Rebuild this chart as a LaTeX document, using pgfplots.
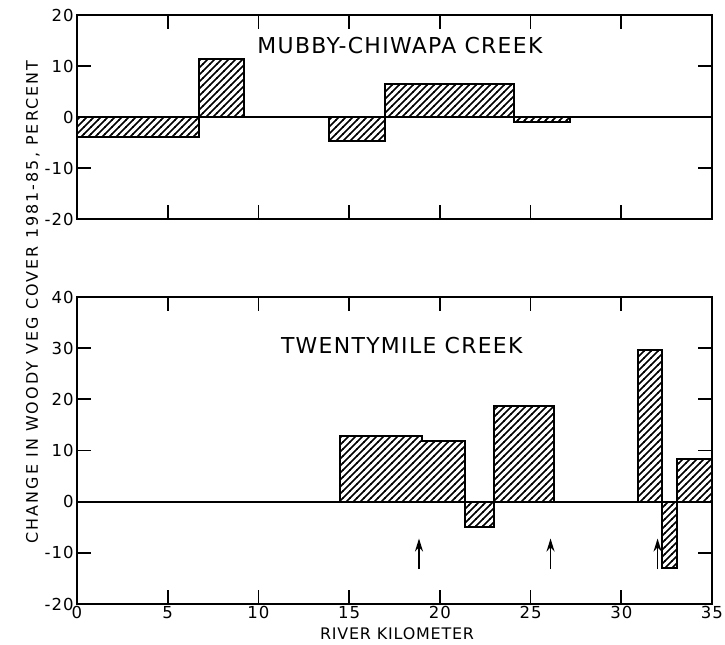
\documentclass[border=0pt]{standalone}
\usepackage{pgfplots}
\pgfplotsset{compat=1.18}
\usetikzlibrary{patterns,arrows.meta}
\usepackage{fontspec}
\setmainfont{DejaVu Sans}[LetterSpace=6]
\newfontfamily\widefont{DejaVu Sans}[LetterSpace=13]
\newfontfamily\widerfont{DejaVu Sans}[LetterSpace=5]

\pgfdeclarepatternformonly{hatch}{\pgfqpoint{-1bp}{-1bp}}{\pgfqpoint{4.5bp}{4.5bp}}{\pgfqpoint{3.5bp}{3.5bp}}{%
  \pgfsetlinewidth{0.75bp}%
  \pgfpathmoveto{\pgfqpoint{-0.2bp}{-0.2bp}}%
  \pgfpathlineto{\pgfqpoint{3.7bp}{3.7bp}}%
  \pgfusepath{stroke}}

\pgfplotstableread{
x y
0 -3.9
6.75 11.3
9.2 0
13.9 -4.7
17.0 6.5
24.1 -1.0
27.2 0
35 0
}\topdata

\pgfplotstableread{
x y
0 0
14.5 12.9
19.0 11.8
21.4 -5.0
23.0 18.7
26.3 -0.15
30.9 29.7
32.25 -13.0
33.05 8.3
35 8.3
}\botdata

\pgfplotstableread{
x y v
18.85 -13.2 6.0
26.1 -13.2 6.0
32.0 -13.2 6.0
}\arrowdata

\begin{document}
\begin{tikzpicture}
\useasboundingbox (-38.5bp,-20.5bp) rectangle (324bp,302bp);
\pgfplotsset{
  every axis/.append style={
    scale only axis, width=317.5bp, xmin=0, xmax=35,
    axis line style={line width=1bp},
    major tick length=7bp,
    tick style={line width=0.9bp, black},
    xtick={0,5,...,35},
    tick align=inside,
    /pgf/number format/assume math mode=true,
    ticklabel style={font=\fontsize{8.3}{10}\selectfont},
    yticklabel style={inner sep=1.5bp},
    xticklabel style={inner sep=1bp},
  }
}
% top panel
\begin{axis}[at={(0,192.5bp)}, anchor=south west, height=102bp,
  ymin=-20, ymax=20, ytick={-20,-10,...,20}, xticklabels={}]
\addplot[ybar interval, pattern=hatch, draw=none] table {\topdata};
\addplot[const plot, black, line width=1bp] table {\topdata};
\addplot[black, line width=1bp] coordinates {(0,0) (35,0)};
\node[font=\fontsize{11}{13}\selectfont] at (axis cs:17.8,14.0) {MUBBY-CHIWAPA CREEK};
\end{axis}
% bottom panel
\begin{axis}[at={(0,0)}, anchor=south west, height=153.5bp,
  ymin=-20, ymax=40, ytick={-20,-10,...,40}]
\addplot[ybar interval, pattern=hatch, draw=none] table {\botdata};
\addplot[const plot, black, line width=1bp] table {\botdata};
\addplot[black, line width=1bp] coordinates {(0,0) (35,0)};
\addplot[black, line width=0.9bp, -{Stealth[length=6.5bp,width=4bp]},
  quiver={u=0, v=\thisrow{v}}] table {\arrowdata};
\node[font=\fontsize{11}{13}\selectfont] at (axis cs:17.9,30.6) {TWENTYMILE CREEK};
\end{axis}
\node[rotate=90, font=\widefont\fontsize{8}{9}\selectfont] at (-22bp,151bp) {CHANGE IN WOODY VEG COVER 1981-85, PERCENT};
\node[font=\widerfont\fontsize{8}{9}\selectfont] at (160bp,-15bp) {RIVER KILOMETER};
\end{tikzpicture}
\end{document}
